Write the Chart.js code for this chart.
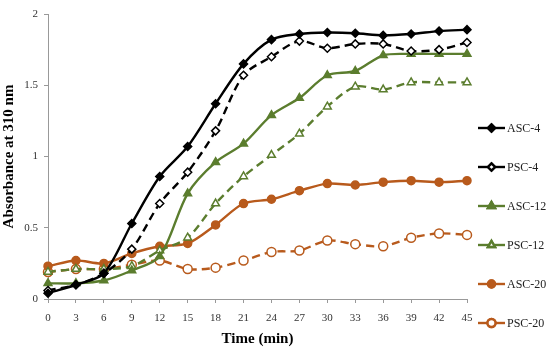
<!DOCTYPE html>
<html>
<head>
<meta charset="utf-8">
<script src="https://cdn.jsdelivr.net/npm/chart.js@4.4.1/dist/chart.umd.min.js"></script>
<style>
  html, body { margin: 0; padding: 0; background: #fff; }
  #wrap { width: 550px; height: 351px; position: relative; }
</style>
</head>
<body>
<div id="wrap"><canvas id="absChart"></canvas></div>
<script>
  const times = [0, 3, 6, 9, 12, 15, 18, 21, 24, 27, 30, 33, 36, 39, 42, 45];
  const yTicks = [0, 0.5, 1, 1.5, 2];

  const asc4  = [0.04, 0.10, 0.18, 0.53, 0.86, 1.07, 1.37, 1.65, 1.82, 1.86, 1.87, 1.865, 1.85, 1.86, 1.88, 1.89];
  const psc4  = [0.06, 0.10, 0.18, 0.35, 0.67, 0.89, 1.18, 1.57, 1.70, 1.81, 1.76, 1.79, 1.79, 1.74, 1.75, 1.80];
  const asc12 = [0.11, 0.11, 0.13, 0.20, 0.30, 0.74, 0.96, 1.09, 1.29, 1.41, 1.57, 1.60, 1.71, 1.72, 1.72, 1.72];
  const psc12 = [0.19, 0.21, 0.21, 0.23, 0.34, 0.43, 0.67, 0.86, 1.01, 1.16, 1.35, 1.49, 1.47, 1.52, 1.52, 1.52];
  const asc20 = [0.23, 0.27, 0.25, 0.32, 0.37, 0.39, 0.52, 0.67, 0.70, 0.76, 0.81, 0.80, 0.82, 0.83, 0.82, 0.83];
  const psc20 = [0.19, 0.21, 0.21, 0.24, 0.27, 0.21, 0.22, 0.27, 0.33, 0.34, 0.41, 0.385, 0.37, 0.43, 0.46, 0.45];

  const BLACK = '#000000';
  const GREEN = '#5b7d2e';
  const ORANGE = '#b85a1c';
  const DASH = [8, 5];
  const serif = "'Liberation Serif', 'DejaVu Serif', serif";

  function series(label, data, color, filled, pointStyle, dashed, radius) {
    return {
      label,
      data,
      borderColor: color,
      backgroundColor: color,
      borderWidth: 2.4,
      borderDash: dashed ? DASH : [],
      tension: 0.3,
      pointStyle,
      pointRadius: radius,
      pointBorderWidth: 1.5,
      pointBorderColor: color,
      pointBackgroundColor: filled ? color : '#ffffff',
      fill: false
    };
  }

  // legend with line + marker samples, drawn on the right side
  const sideLegend = {
    id: 'sideLegend',
    afterDraw(chart) {
      const ctx = chart.ctx;
      ctx.save();
      chart.data.datasets.forEach((ds, i) => {
        const y = 128 + i * 39;
        ctx.strokeStyle = ds.borderColor;
        ctx.lineWidth = 2.4;
        ctx.setLineDash([]);
        ctx.beginPath();
        ctx.moveTo(478, y);
        ctx.lineTo(505, y);
        ctx.stroke();
        Chart.helpers.drawPoint(ctx, {
          pointStyle: ds.pointStyle,
          radius: ds.pointRadius - 0.5,
          borderWidth: ds.pointBorderWidth,
          rotation: 0
        }, 491.5, y);
        ctx.fillStyle = ds.pointBackgroundColor;
        ctx.fill();
        ctx.stroke();
        ctx.fillStyle = '#222';
        ctx.font = '12px ' + serif;
        ctx.textBaseline = 'middle';
        ctx.textAlign = 'left';
        ctx.fillText(ds.label, 507, y + 1);
      });
      ctx.restore();
    }
  };

  new Chart(document.getElementById('absChart'), {
    type: 'line',
    data: {
      labels: times,
      datasets: [
        series('ASC-4', asc4, BLACK, true, 'rectRot', false, 4),
        series('PSC-4', psc4, BLACK, false, 'rectRot', true, 4),
        series('ASC-12', asc12, GREEN, true, 'triangle', false, 4.5),
        series('PSC-12', psc12, GREEN, false, 'triangle', true, 4.5),
        series('ASC-20', asc20, ORANGE, true, 'circle', false, 4),
        series('PSC-20', psc20, ORANGE, false, 'circle', true, 4.5)
      ]
    },
    options: {
      responsive: true,
      maintainAspectRatio: false,
      animation: false,
      layout: { padding: { top: 14, right: 83, left: 0, bottom: 0 } },
      plugins: {
        legend: { display: false },
        tooltip: { enabled: false }
      },
      scales: {
        x: {
          type: 'category',
          offset: false,
          grid: { drawOnChartArea: false, color: '#999', tickLength: 4 },
          border: { color: '#999', width: 1 },
          ticks: { color: '#333', font: { family: serif, size: 11 }, padding: 9, maxRotation: 0, autoSkip: false },
          title: { display: true, text: 'Time (min)', color: '#000', font: { family: serif, size: 15, weight: 'bold' }, padding: { top: 0, bottom: 3 } },
          afterFit: s => { s.height = 52; }
        },
        y: {
          min: 0,
          max: 2,
          afterBuildTicks: s => { s.ticks = yTicks.map(v => ({ value: v })); },
          grid: { drawOnChartArea: false, color: '#999', tickLength: 4 },
          border: { color: '#999', width: 1 },
          ticks: { color: '#333', font: { family: serif, size: 11 }, padding: 6, callback: v => String(v) },
          title: { display: true, text: 'Absorbance at 310 nm', color: '#000', font: { family: serif, size: 15, weight: 'bold' }, padding: { top: 0, bottom: 2 } },
          afterFit: s => { s.width = 48; }
        }
      }
    },
    plugins: [sideLegend]
  });
</script>
</body>
</html>
